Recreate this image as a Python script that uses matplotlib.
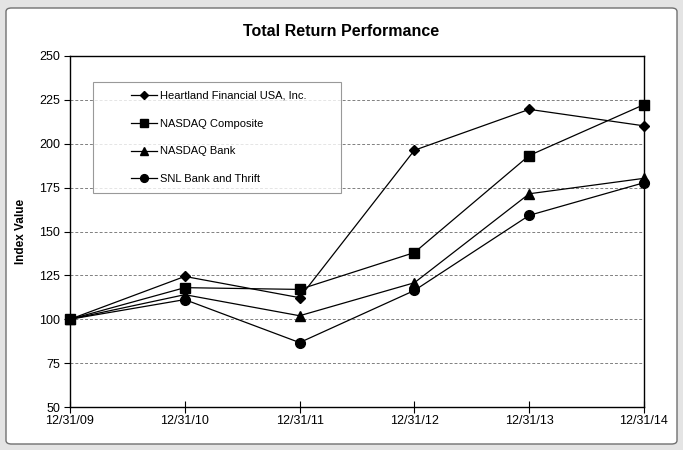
"""Total return performance line chart (Excel-style frame)."""
import numpy as np
import matplotlib
matplotlib.use("Agg")
import matplotlib.pyplot as plt
from matplotlib.patches import FancyBboxPatch
from matplotlib.legend_handler import HandlerLine2D

dates = ["12/31/09", "12/31/10", "12/31/11", "12/31/12", "12/31/13", "12/31/14"]
heartland = [100, 124.4, 112.3, 196.3, 219.6, 210.2]
nasdaq_comp = [100, 118.0, 117.0, 138.0, 193.3, 222.3]
nasdaq_bank = [100, 114.0, 102.0, 120.8, 171.5, 180.3]
snl_bank = [100, 111.2, 86.7, 116.4, 159.2, 177.8]

series = [
    ("Heartland Financial USA, Inc.", heartland, "D", 5),
    ("NASDAQ Composite", nasdaq_comp, "s", 7.5),
    ("NASDAQ Bank", nasdaq_bank, "^", 7),
    ("SNL Bank and Thrift", snl_bank, "o", 7),
]


class IndentedLine(HandlerLine2D):
    """Legend handle drawn only in the right part of the handle slot (Excel look)."""

    def get_xdata(self, legend, xdescent, ydescent, width, height, fontsize):
        x0 = -xdescent + 0.52 * width
        x1 = -xdescent + width
        return np.array([x0, x1]), np.array([(x0 + x1) / 2])


plt.rcParams.update({
    "font.family": ["Liberation Sans", "DejaVu Sans"],
    "font.size": 9,
})

fig = plt.figure(figsize=(6.83, 4.5), dpi=100, facecolor="#e4e4e4")
# white chart area with a thin dark border, like the spreadsheet chart object
fig.patches.append(FancyBboxPatch((6 / 683, 6 / 450), 671 / 683, 436 / 450,
                                  boxstyle="round,pad=0,rounding_size=0.008",
                                  transform=fig.transFigure, facecolor="white",
                                  edgecolor="#707070", linewidth=1.0, zorder=-5))

ax = fig.add_axes([70 / 683, 1 - 407 / 450, 574 / 683, 351 / 450])
ax.set_facecolor("white")
x = np.arange(len(dates))
lines = []
for label, vals, mk, ms in series:
    ln, = ax.plot(x, vals, color="black", linewidth=0.9, marker=mk, markersize=ms,
                  markerfacecolor="black", markeredgecolor="black", label=label,
                  clip_on=False, zorder=3)
    lines.append(ln)

ax.set_xlim(0, len(dates) - 1)
ax.set_ylim(50, 250)
ax.set_yticks(np.arange(50, 251, 25))
ax.set_xticks(x)
ax.set_xticklabels(dates)
ax.yaxis.grid(True, linestyle=(0, (3, 2)), color="#808080", linewidth=0.7)
ax.set_axisbelow(True)
for sp in ax.spines.values():
    sp.set_color("black")
    sp.set_linewidth(1.0)
ax.tick_params(axis="y", direction="out", length=4, width=0.8, pad=3, labelsize=9)
ax.tick_params(axis="x", direction="inout", length=8, width=0.8, pad=2, labelsize=9)

ax.set_ylabel("Index Value", fontsize=8.5, fontweight="bold", labelpad=9)
fig.text(0.5, 1 - 31 / 450, "Total Return Performance", ha="center", va="center",
         fontsize=11.5, fontweight="bold")

leg = ax.legend(loc="upper left", bbox_to_anchor=(0.04, 0.926, 0.432, 0.0),
                mode="expand", borderaxespad=0.0, frameon=True, fancybox=False,
                fontsize=8, handlelength=5.0, handletextpad=0.25,
                labelspacing=1.6, borderpad=0.8, markerscale=0.8,
                handler_map={ln: IndentedLine() for ln in lines})
leg.get_frame().set_edgecolor("#808080")
leg.get_frame().set_linewidth(0.8)

fig.savefig("out.png", dpi=100, facecolor=fig.get_facecolor())
